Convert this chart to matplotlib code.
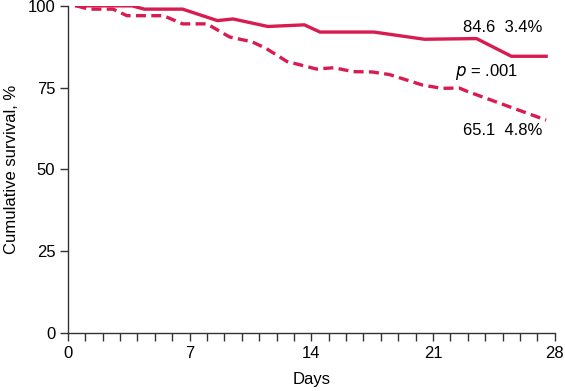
import matplotlib
matplotlib.use("Agg")
import matplotlib.pyplot as plt
from matplotlib.ticker import MultipleLocator

# solid curve (higher survival group)
solid_days = [0.5, 3.7, 4.4, 6.6, 8.6, 9.5, 11.5, 13.6, 14.5, 17.6, 20.5, 23.5, 25.5, 27.5]
solid_surv = [100, 100, 99, 99, 95.5, 96, 93.7, 94.2, 92, 92, 89.8, 90, 84.6, 84.6]

# dashed curve (lower survival group)
dash_days = [0.5, 1.2, 2.6, 3.4, 5.5, 6.6, 8.0, 9.3, 10.6, 11.4, 12.6, 14.3, 15.3,
             16.4, 17.5, 18.5, 20.4, 21.5, 22.5, 23.0, 27.5]
dash_surv = [100, 99, 99, 97, 97, 94.5, 94.5, 90.5, 89, 87, 83, 80.7, 81.1,
             79.9, 79.8, 79, 75.8, 74.8, 74.9, 73.8, 65.1]

x_ticks = [0, 7, 14, 21, 28]
y_ticks = [0, 25, 50, 75, 100]

red = "#d81b50"
axc = "#333333"

plt.rcParams["font.family"] = ["Liberation Sans", "DejaVu Sans"]

fig = plt.figure(figsize=(5.65, 3.91), dpi=100)
ax = fig.add_axes([0.120, 0.148, 0.862, 0.837])

ax.plot(solid_days, solid_surv, color=red, lw=2.4, solid_joinstyle="miter")
ax.plot(dash_days, dash_surv, color=red, lw=2.4, dashes=(3, 1.6))

ax.set_xlim(0, 28)
ax.set_ylim(0, 100)
ax.set_xticks(x_ticks)
ax.set_yticks(y_ticks)
ax.xaxis.set_minor_locator(MultipleLocator(1))

for s in ["top", "right"]:
    ax.spines[s].set_visible(False)
for s in ["left", "bottom"]:
    ax.spines[s].set_color(axc)
    ax.spines[s].set_linewidth(1.0)

ax.tick_params(axis="both", which="both", direction="out", length=6, width=1.0,
               color=axc, labelsize=12, labelcolor="black", pad=3)

ax.set_xlabel("Days", fontsize=12, labelpad=8)
ax.set_ylabel("Cumulative survival, %", fontsize=12, labelpad=6)

ax.text(27.3, 93.3, "84.6  3.4%", fontsize=12, ha="right", va="center")
ax.text(25.9, 79.8, "$\\it{p}$ = .001", fontsize=12, ha="right", va="center")
ax.text(27.3, 61.8, "65.1  4.8%", fontsize=12, ha="right", va="center")

fig.savefig("out.png", dpi=100)
